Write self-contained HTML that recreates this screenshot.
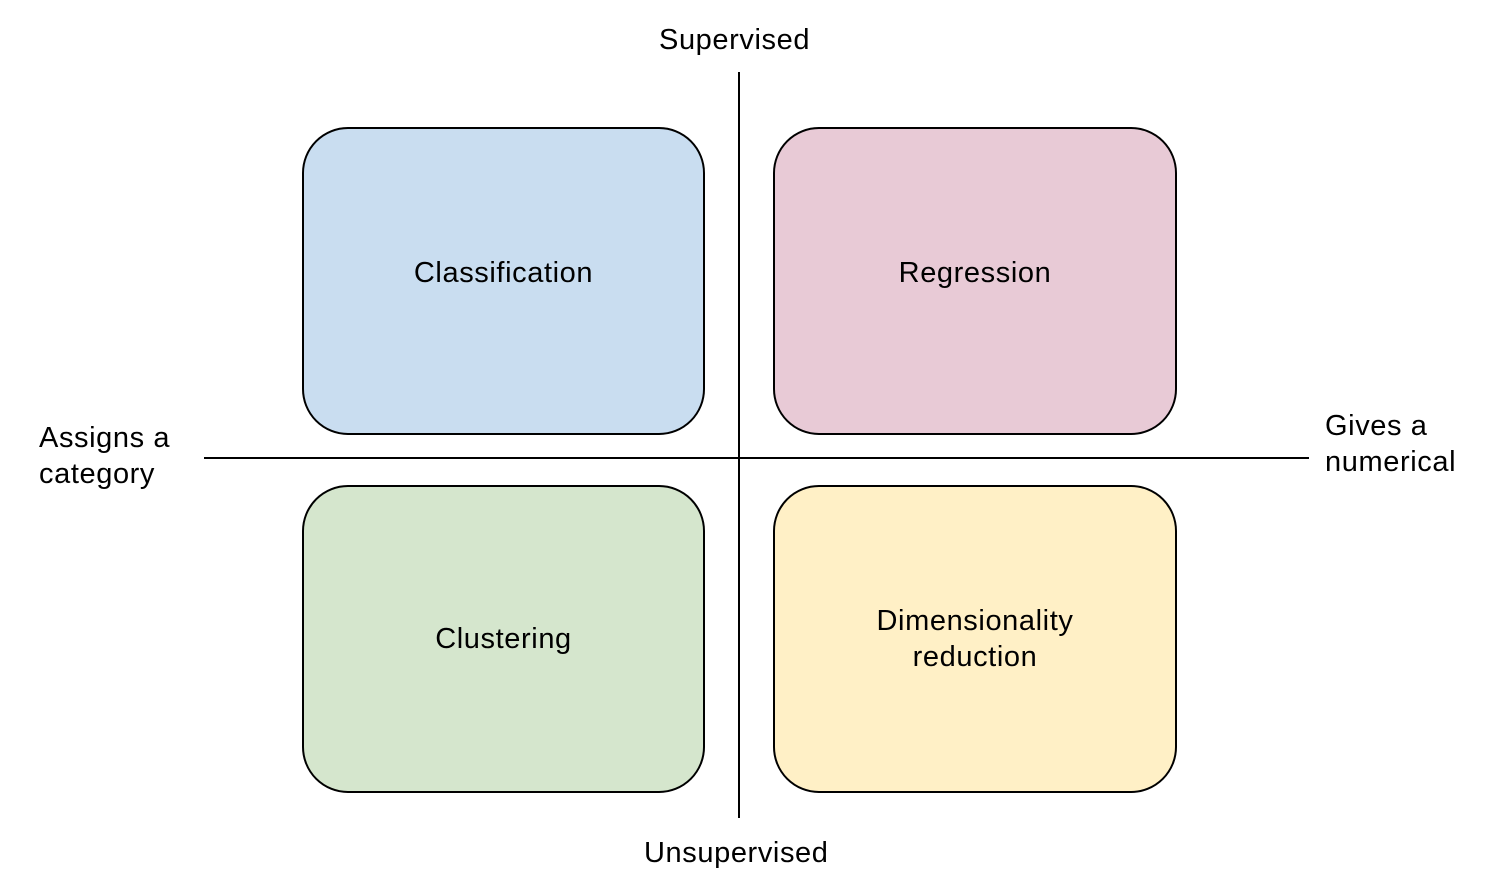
<!DOCTYPE html>
<html><head><meta charset="utf-8"><style>
body{margin:0;width:1494px;height:887px;background:#fff;position:relative;overflow:hidden;font-family:"Liberation Sans",Arial,sans-serif;color:#000}
.b{position:absolute;box-sizing:border-box;border:2px solid #000;border-radius:46px;display:flex;align-items:center;justify-content:center;text-align:center;font-size:29px;line-height:36px;letter-spacing:0.6px}
.s{padding-bottom:16px}
.t{position:absolute;font-size:29px;line-height:36px;white-space:nowrap;letter-spacing:0.6px}
.l{position:absolute;background:#000}
</style></head><body>
<div class="l" style="left:738px;top:72px;width:2px;height:746px"></div>
<div class="l" style="left:204px;top:457px;width:1105px;height:2px"></div>
<div class="b s" style="left:302px;top:127px;width:403px;height:308px;background:#c9ddf0">Classification</div>
<div class="b s" style="left:773px;top:127px;width:404px;height:308px;background:#e8cad6">Regression</div>
<div class="b" style="left:302px;top:485px;width:403px;height:308px;background:#d5e6cd">Clustering</div>
<div class="b" style="left:773px;top:485px;width:404px;height:308px;background:#fff0c6">Dimensionality<br>reduction</div>
<div class="t" style="left:659px;top:22px">Supervised</div>
<div class="t" style="left:644px;top:835px">Unsupervised</div>
<div class="t" style="left:39px;top:420px">Assigns a<br>category</div>
<div class="t" style="left:1325px;top:408px">Gives a<br>numerical</div>
</body></html>
